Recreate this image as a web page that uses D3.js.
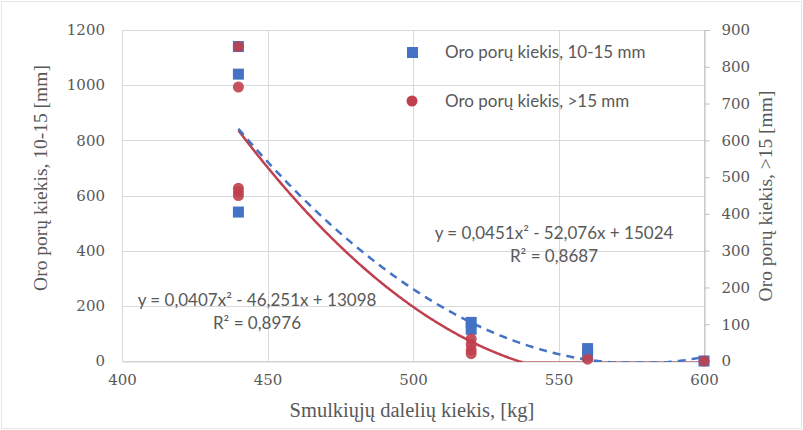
<!DOCTYPE html>
<html>
<head>
<meta charset="utf-8">
<script src="https://cdn.jsdelivr.net/npm/d3@7/dist/d3.min.js"></script>
<style>
  html, body { margin: 0; padding: 0; background: #fff; }
  svg { display: block; }
</style>
</head>
<body>
<svg id="chart" width="803" height="430"></svg>
<script>
// Series: air-void counts vs. fines content
const xTicks = [400, 450, 500, 550, 600];
const leftTicks = [0, 200, 400, 600, 800, 1000, 1200];
const rightTicks = [0, 100, 200, 300, 400, 500, 600, 700, 800, 900];

// 10-15 mm voids (left axis)
const smallX = [440, 440, 440, 520, 520, 560, 560, 600];
const smallY = [1140, 1040, 540, 140, 115, 45, 20, 0];

// >15 mm voids (right axis)
const largeX = [440, 440, 440, 440, 440, 520, 520, 520, 520, 560, 600];
const largeY = [855, 745, 470, 460, 450, 60, 45, 30, 20, 5, 0];

// Polynomial trend lines (coefficients a, b, c of a*x^2 + b*x + c)
const smallFit = [0.0451, -52.076, 15024];
const largeFit = [0.0407, -46.251, 13098];
const smallFitText = ["y = 0,0451x² - 52,076x + 15024", "R² = 0,8687"];
const largeFitText = ["y = 0,0407x² - 46,251x + 13098", "R² = 0,8976"];

const legendLabels = ["Oro porų kiekis, 10-15 mm", "Oro porų kiekis, >15 mm"];
const xTitle = "Smulkiųjų dalelių kiekis, [kg]";
const leftTitle = "Oro porų kiekis, 10-15 [mm]";
const rightTitle = "Oro porų kiekis, >15 [mm]";

const blue = "#4472C4";
const red = "#C0404E";
const textGray = "#595959";
const serif = "'Liberation Serif', 'DejaVu Serif', serif";
const tickFont = "'DejaVu Serif', serif";
const sans = "Lato, 'Open Sans', sans-serif";

const svg = d3.select("#chart");
const W = 803, H = 430;
const plot = { left: 122, right: 704, top: 30, bottom: 361 };

// Chart area border
svg.append("rect").attr("x", 1.5).attr("y", 1.5).attr("width", W - 3).attr("height", H - 3)
  .attr("fill", "#fff").attr("stroke", "#E6E6E6");

const x = d3.scaleLinear().domain([400, 600]).range([plot.left, plot.right]);
const yL = d3.scaleLinear().domain([0, 1200]).range([plot.bottom, plot.top]);
const yR = d3.scaleLinear().domain([0, 900]).range([plot.bottom, plot.top]);

// Gridlines
const grid = svg.append("g").attr("stroke", "#D9D9D9").attr("stroke-width", 1);
leftTicks.forEach(t => {
  grid.append("line").attr("x1", plot.left).attr("x2", plot.right)
    .attr("y1", Math.round(yL(t)) + 0.5).attr("y2", Math.round(yL(t)) + 0.5);
});
xTicks.forEach(t => {
  grid.append("line").attr("x1", Math.round(x(t)) + 0.5).attr("x2", Math.round(x(t)) + 0.5)
    .attr("y1", plot.top).attr("y2", plot.bottom);
});

// Axes
const fmt = d3.format("d");
const xAxis = svg.append("g").attr("transform", `translate(0,${Math.round(plot.bottom) + 0.5})`)
  .call(d3.axisBottom(x).tickValues(xTicks).tickFormat(fmt).tickSize(0).tickPadding(13));
const lAxis = svg.append("g").attr("transform", `translate(${plot.left - 17},0)`)
  .call(d3.axisLeft(yL).tickValues(leftTicks).tickFormat(fmt).tickSize(0).tickPadding(0));
const rAxis = svg.append("g").attr("transform", `translate(${Math.round(plot.right) + 0.5},0)`)
  .call(d3.axisRight(yR).tickValues(rightTicks).tickFormat(fmt).tickSize(5).tickPadding(12));

[xAxis, lAxis, rAxis].forEach(a => {
  a.selectAll("text").attr("font-family", tickFont).attr("font-size", 15).attr("fill", textGray);
});
xAxis.select(".domain").attr("stroke", "#D0D0D0");
lAxis.select(".domain").remove();
rAxis.select(".domain").attr("stroke", "#BFBFBF");
rAxis.selectAll(".tick line").attr("stroke", "#BFBFBF");

// Trend lines
svg.append("defs").append("clipPath").attr("id", "plotClip")
  .append("rect").attr("x", plot.left).attr("y", plot.top)
  .attr("width", plot.right - plot.left).attr("height", plot.bottom - plot.top + 1);

const poly = c => v => c[0] * v * v + c[1] * v + c[2];
const xs = d3.range(440, 600.01, 0.5);
const lineL = d3.line().x(d => x(d)).y(d => yL(Math.max(-5, poly(smallFit)(d))));
const lineR = d3.line().x(d => x(d)).y(d => yR(Math.max(-5, poly(largeFit)(d))));

const trends = svg.append("g").attr("clip-path", "url(#plotClip)");
trends.append("path").datum(xs).attr("d", lineR)
  .attr("fill", "none").attr("stroke", red).attr("stroke-width", 2.5);
trends.append("path").datum(xs).attr("d", lineL)
  .attr("fill", "none").attr("stroke", blue).attr("stroke-width", 2.5)
  .attr("stroke-dasharray", "8,6");

// Markers
svg.append("g").selectAll("rect").data(smallX.map((v, i) => [v, smallY[i]])).join("rect")
  .attr("x", d => x(d[0]) - 5.5).attr("y", d => yL(d[1]) - 5.5)
  .attr("width", 11).attr("height", 11).attr("fill", blue);
svg.append("g").selectAll("circle").data(largeX.map((v, i) => [v, largeY[i]])).join("circle")
  .attr("cx", d => x(d[0])).attr("cy", d => yR(d[1])).attr("r", 5.5)
  .attr("fill", red).attr("fill-opacity", 0.9);

// Equations
const eq = svg.append("g").attr("font-family", sans).attr("font-size", 17)
  .attr("fill", textGray).attr("text-anchor", "middle");
eq.append("text").attr("x", 257).attr("y", 306).text(largeFitText[0]);
eq.append("text").attr("x", 257).attr("y", 329).text(largeFitText[1]);
eq.append("text").attr("x", 554).attr("y", 239).text(smallFitText[0]);
eq.append("text").attr("x", 554).attr("y", 262).text(smallFitText[1]);

// Legend
const lg = svg.append("g").attr("font-family", sans).attr("font-size", 17).attr("fill", textGray);
lg.append("rect").attr("x", 407).attr("y", 47).attr("width", 11).attr("height", 11).attr("fill", blue);
lg.append("text").attr("x", 445).attr("y", 58).text(legendLabels[0]);
lg.append("circle").attr("cx", 412).attr("cy", 101).attr("r", 5.5).attr("fill", red);
lg.append("text").attr("x", 445).attr("y", 107).text(legendLabels[1]);

// Axis titles
svg.append("text").attr("x", 412).attr("y", 417).attr("text-anchor", "middle")
  .attr("font-family", serif).attr("font-size", 20.5).attr("fill", textGray).text(xTitle);
svg.append("text").attr("transform", "translate(43,178) rotate(-90)").attr("text-anchor", "middle")
  .attr("dominant-baseline", "middle")
  .attr("font-family", serif).attr("font-size", 19.5).attr("fill", textGray).text(leftTitle);
svg.append("text").attr("transform", "translate(768,196) rotate(-90)").attr("text-anchor", "middle")
  .attr("dominant-baseline", "middle")
  .attr("font-family", serif).attr("font-size", 19.5).attr("fill", textGray).text(rightTitle);
</script>
</body>
</html>
